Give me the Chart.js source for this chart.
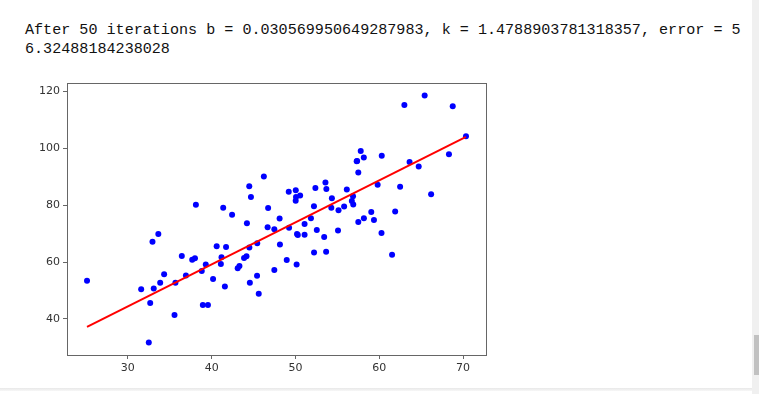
<!DOCTYPE html>
<html>
<head>
<meta charset="utf-8">
<script src="https://cdn.jsdelivr.net/npm/chart.js@4"></script>
<style>
  html, body { margin: 0; padding: 0; background: #fff; width: 759px; height: 394px; overflow: hidden; }
  #out { position: absolute; left: 25px; top: 21px; font-family: "Liberation Mono", "DejaVu Sans Mono", monospace; font-size: 15.1px; line-height: 19px; color: #111; white-space: pre; }
  #chartCanvas { position: absolute; left: 0; top: 0; }
  #scroll { position: absolute; left: 752px; top: 0; width: 7px; height: 394px; background: #f0f0f0; }
  #thumb { position: absolute; left: 754px; top: 335px; width: 5px; height: 40px; background: #c1c1c1; }
  #bottomLine { position: absolute; left: 0; top: 388px; width: 752px; height: 3px; background: linear-gradient(#e8e8e8, #f7f7f7); }
</style>
</head>
<body>
<div id="out">After 50 iterations b = 0.030569950649287983, k = 1.4788903781318357, error = 5
6.32488184238028</div>
<canvas id="chartCanvas" width="752" height="394"></canvas>
<div id="scroll"></div>
<div id="thumb"></div>
<div id="bottomLine"></div>
<script>
// scatter points
const xData = [32.50, 53.43, 61.53, 47.48, 59.81, 55.14, 52.21, 39.30, 48.11, 52.55,
  45.42, 54.35, 44.16, 58.17, 56.73, 48.96, 44.69, 60.30, 45.62, 38.82,
  66.19, 65.42, 47.48, 41.58, 51.85, 59.37, 57.31, 63.62, 46.74, 50.56,
  52.22, 35.57, 42.44, 58.16, 57.50, 45.44, 61.90, 33.09, 36.44, 37.68,
  44.56, 43.32, 50.07, 43.87, 63.00, 32.67, 40.17, 53.58, 33.86, 64.71,
  38.12, 44.50, 40.60, 41.72, 51.09, 55.08, 41.38, 62.49, 49.20, 41.10,
  41.18, 50.19, 52.38, 50.14, 33.64, 39.56, 56.13, 57.36, 60.27, 35.68,
  31.59, 53.66, 46.68, 43.11, 70.35, 44.49, 57.50, 36.93, 55.81, 38.95,
  56.90, 56.87, 34.33, 59.05, 57.79, 54.28, 51.09, 50.28, 44.21, 38.01,
  32.94, 53.69, 68.77, 46.23, 68.32, 50.03, 49.24, 50.04, 48.15, 25.13];
const yData = [31.71, 68.78, 62.56, 71.55, 87.23, 78.21, 79.64, 59.17, 75.33, 71.30,
  55.17, 82.48, 62.01, 75.39, 81.44, 60.72, 82.89, 97.38, 48.85, 56.88,
  83.88, 118.59, 57.25, 51.39, 75.38, 74.77, 95.46, 95.23, 79.05, 83.43,
  63.36, 41.41, 76.62, 96.77, 74.08, 66.59, 77.77, 50.72, 62.12, 60.81,
  52.68, 58.57, 82.91, 61.42, 115.24, 45.57, 54.08, 87.99, 52.73, 93.58,
  80.17, 65.10, 65.56, 65.28, 73.43, 71.14, 79.10, 86.52, 84.74, 59.36,
  61.68, 69.85, 86.10, 59.11, 69.90, 44.86, 85.50, 95.54, 70.25, 52.72,
  50.39, 63.64, 72.25, 57.81, 104.26, 86.64, 91.49, 55.23, 79.55, 44.85,
  80.21, 83.14, 55.72, 77.63, 99.05, 79.12, 69.59, 69.51, 73.69, 61.37,
  67.17, 85.67, 114.85, 90.12, 97.92, 81.54, 72.11, 85.23, 66.22, 53.45];

// fitted line end points
const lineX = [25.13, 70.35];
const lineY = [37.19, 104.07];

const xTicks = [30, 40, 50, 60, 70];
const yTicks = [40, 60, 80, 100, 120];

const points = xData.map((x, i) => ({ x: x, y: yData[i] }));
const linePts = lineX.map((x, i) => ({ x: x, y: lineY[i] }));

// box round the plot area (top and right sides)
const frame = {
  id: 'frame',
  afterDraw(chart) {
    const a = chart.chartArea;
    const ctx = chart.ctx;
    ctx.save();
    ctx.strokeStyle = '#666';
    ctx.lineWidth = 1;
    ctx.strokeRect(Math.round(a.left) + 0.5, Math.round(a.top) + 0.5,
      Math.round(a.right - a.left), Math.round(a.bottom - a.top));
    ctx.restore();
  }
};

const ctx = document.getElementById('chartCanvas').getContext('2d');
new Chart(ctx, {
  type: 'scatter',
  data: {
    datasets: [{
      data: points,
      backgroundColor: '#0000ff',
      borderColor: '#0000ff',
      borderWidth: 0,
      pointRadius: 3,
      order: 2
    }, {
      data: linePts,
      showLine: true,
      borderColor: '#ff0000',
      borderWidth: 2,
      pointRadius: 0,
      order: 1
    }]
  },
  options: {
    responsive: false,
    animation: false,
    layout: { padding: { left: 27, right: 266, top: 83, bottom: 14 } },
    plugins: { legend: { display: false }, tooltip: { enabled: false } },
    scales: {
      x: {
        type: 'linear',
        min: 22.74,
        max: 72.74,
        afterBuildTicks: s => { s.ticks = xTicks.map(v => ({ value: v })); },
        afterFit: s => { s.height = 25; },
        grid: { drawOnChartArea: false, tickLength: 4, tickColor: '#666' },
        border: { color: '#666' },
        ticks: { color: '#333', padding: 3, font: { family: 'DejaVu Sans', size: 11 } }
      },
      y: {
        type: 'linear',
        min: 27.3,
        max: 123.0,
        afterBuildTicks: s => { s.ticks = yTicks.map(v => ({ value: v })); },
        afterFit: s => { s.width = 40; },
        grid: { drawOnChartArea: false, tickLength: 4, tickColor: '#666' },
        border: { color: '#666' },
        ticks: { color: '#333', padding: 3, font: { family: 'DejaVu Sans', size: 11 } }
      }
    }
  },
  plugins: [frame]
});
</script>
</body>
</html>
